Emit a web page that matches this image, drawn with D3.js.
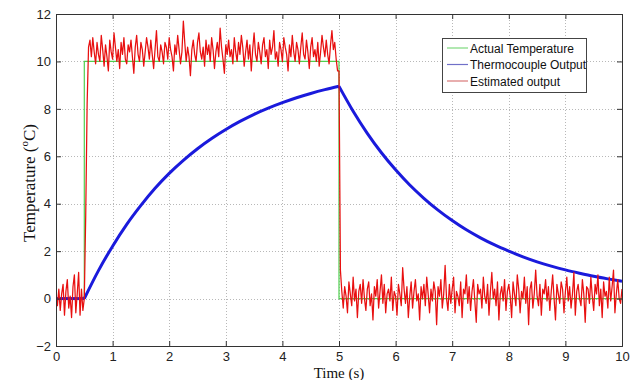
<!DOCTYPE html>
<html><head><meta charset="utf-8">
<script src="https://cdn.jsdelivr.net/npm/d3@7"></script>
<style>body{margin:0;background:#fff}svg{display:block}</style>
</head><body>
<svg id="c" width="640" height="380"></svg>
<script>
const xTicks = [0,1,2,3,4,5,6,7,8,9,10];
const yTicks = [-2,0,2,4,6,8,10,12];
const seriesNames = ["Actual Temperature","Thermocouple Output","Estimated output"];
// Actual temperature (step input)
const actualT = [0,0.5,0.5,5,5,10];
const actualV = [0,0,10,10,0,0];
// Thermocouple output, read every 0.25 s
const thermoT = [0,0.25,0.5,0.75,1,1.25,1.5,1.75,2,2.25,2.5,2.75,3,3.25,3.5,3.75,4,4.25,4.5,4.75,5,
  5.25,5.5,5.75,6,6.25,6.5,6.75,7,7.25,7.5,7.75,8,8.25,8.5,8.75,9,9.25,9.5,9.75,10];
const thermoV = [0,0,0,1.18,2.21,3.13,3.93,4.65,5.28,5.83,6.32,6.75,7.13,7.47,7.77,8.03,8.26,8.47,8.65,8.81,8.95,
  7.90,6.97,6.15,5.43,4.79,4.23,3.73,3.29,2.90,2.56,2.26,2.00,1.76,1.55,1.37,1.21,1.07,0.94,0.83,0.73];
const thermoBreaks = [0.5,5];
// Estimated output, read every 0.025 s
const estStep = 0.025;
const estV = [
 0.1,-0.3,0.4,-0.5,0.2,0.6,-0.7,0.3,0.8,-0.4,0.1,-0.8,0.5,1.0,-0.6,0.2,1.1,-0.7,0.4,-0.5,0.0,
 3.5,8.2,
 10.6,10.9,10.2,11.0,10.4,9.9,10.8,10.3,10.0,11.1,10.5,9.8,10.7,10.2,9.6,10.9,10.4,10.1,11.2,10.6,
 10.0,10.5,9.7,10.8,10.3,11.0,10.1,9.9,10.7,10.4,10.9,10.2,9.5,10.6,11.1,10.3,10.0,10.8,10.5,9.8,
 10.4,11.0,10.6,10.1,10.9,10.3,9.7,10.5,11.3,10.2,10.0,10.7,10.4,9.9,10.8,10.6,10.1,11.0,10.5,10.2,
 9.6,10.7,10.3,11.1,10.5,9.9,10.4,11.7,10.8,10.0,10.6,10.2,9.4,10.5,10.9,10.3,10.0,10.8,11.2,10.4,
 10.1,10.6,9.8,10.9,10.3,10.7,10.0,11.0,10.5,9.7,10.4,10.8,10.2,11.4,10.6,10.1,9.5,10.7,10.3,10.9,
 10.2,10.5,9.9,11.0,10.4,10.0,10.8,10.3,11.1,10.6,9.8,10.4,10.9,10.1,10.7,9.6,10.5,11.2,10.3,10.0,
 10.8,10.4,9.9,10.7,11.0,10.2,10.5,9.7,10.9,10.3,10.6,11.3,10.1,10.4,9.8,10.8,10.5,10.0,11.0,10.6,
 10.3,9.6,10.7,10.2,11.1,10.4,10.0,10.8,10.5,9.9,10.6,11.2,10.3,10.1,10.9,10.4,9.7,10.6,11.0,10.2,
 10.5,10.0,10.8,9.8,10.4,11.1,10.6,10.2,10.9,10.3,9.9,10.7,11.3,10.5,10.8,10.1,9.6,
 9.6,
 1.2,0.3,-0.4,0.5,0.1,-0.6,0.7,0.2,-0.3,0.9,-0.1,0.4,-0.8,0.3,0.6,-0.2,0.8,0.0,-0.5,0.4,
 0.7,-0.3,0.2,-0.9,0.5,0.1,0.8,-0.4,0.3,1.0,-0.2,0.6,-0.6,0.2,0.4,-0.1,0.9,-0.5,0.3,0.1,
 -0.7,0.6,0.2,-0.3,1.3,0.4,-0.2,0.5,-0.8,0.1,0.7,-0.4,0.3,0.8,-0.1,0.2,-0.9,0.5,0.0,0.6,
 -0.3,0.9,0.2,-0.6,0.4,-0.1,0.7,0.3,-1.1,0.5,0.1,0.8,-0.4,0.2,1.4,0.0,-0.5,0.6,-0.2,0.4,
 0.9,-0.6,0.3,0.1,-0.3,0.7,-0.8,0.4,0.2,1.0,-0.2,0.5,-0.5,0.3,0.8,-0.1,-1.0,0.6,0.2,0.4,
 -0.4,0.9,0.1,-0.2,0.6,-0.7,0.3,1.1,0.0,0.4,-0.3,0.7,-0.9,0.2,0.5,-0.1,0.8,-0.5,0.3,0.6,
 0.1,-0.8,0.7,0.2,-0.3,1.0,0.4,-0.6,0.3,0.0,0.9,-0.2,0.5,-1.1,0.4,0.7,-0.4,0.2,1.2,0.1,
 -0.3,0.6,-0.7,0.4,0.2,0.8,-0.1,0.5,-0.5,0.3,1.0,0.0,-0.9,0.6,0.2,-0.2,0.7,0.4,-0.6,0.3,
 0.9,-0.1,0.5,-0.4,0.2,1.1,-0.7,0.3,0.6,0.0,-0.3,0.8,0.2,-1.0,0.5,0.4,-0.2,0.9,0.1,-0.5,
 0.6,0.2,1.0,-0.3,0.4,-0.8,0.7,0.1,0.3,-0.4,0.9,-0.1,0.5,1.2,-0.6,0.2,0.8,0.0,-0.2,0.4
];

const L=56, R=622, T=14, B=346;
const svg = d3.select("#c");
const x = d3.scaleLinear().domain([0,10]).range([L,R]);
const y = d3.scaleLinear().domain([-2,12]).range([B,T]);

svg.append("rect").attr("x",L).attr("y",T).attr("width",R-L).attr("height",B-T).attr("fill","#fff");

// grid
const grid = svg.append("g").attr("stroke","#b8b8b8").attr("stroke-width",1).attr("stroke-dasharray","1,2");
grid.selectAll(".gx").data(xTicks.slice(1,-1)).join("line")
  .attr("x1",d=>Math.round(x(d))+0.5).attr("x2",d=>Math.round(x(d))+0.5).attr("y1",T).attr("y2",B);
grid.selectAll(".gy").data(yTicks.slice(1,-1)).join("line")
  .attr("y1",d=>Math.round(y(d))+0.5).attr("y2",d=>Math.round(y(d))+0.5).attr("x1",L).attr("x2",R);

svg.append("clipPath").attr("id","pc").append("rect")
  .attr("x",L).attr("y",T).attr("width",R-L).attr("height",B-T);
const plot = svg.append("g").attr("clip-path","url(#pc)");

const line = d3.line().x(d=>x(d[0])).y(d=>y(d[1]));
const smooth = d3.line().x(d=>x(d[0])).y(d=>y(d[1])).curve(d3.curveMonotoneX);
const green = "#4fd04f", blue = "#1a1adc", red = "#e81010";

plot.append("path").datum(actualT.map((t,i)=>[t,actualV[i]]))
  .attr("d",line).attr("fill","none").attr("stroke",green).attr("stroke-width",1.2);

// thermocouple: smooth within each segment, sharp corners at the step times
const thermoPts = thermoT.map((t,i)=>[t,thermoV[i]]);
const b0 = thermoT.indexOf(thermoBreaks[0]), b1 = thermoT.indexOf(thermoBreaks[1]);
[thermoPts.slice(0,b0+1), thermoPts.slice(b0,b1+1), thermoPts.slice(b1)].forEach((seg,k)=>{
  plot.append("path").datum(seg).attr("d",k===0?line:smooth)
    .attr("fill","none").attr("stroke",blue).attr("stroke-width",3).attr("stroke-linejoin","round");
});

plot.append("path").datum(estV.map((v,i)=>[i*estStep,v]))
  .attr("d",line).attr("fill","none").attr("stroke",red).attr("stroke-width",1.25).attr("stroke-linejoin","round");

// axes (MATLAB-style box with inward ticks)
const ax = svg.append("g");
ax.append("g").attr("transform",`translate(0,${B})`)
  .call(d3.axisBottom(x).tickValues(xTicks).tickSize(-5).tickPadding(6).tickFormat(d3.format("d")));
ax.append("g").attr("transform",`translate(0,${T})`)
  .call(d3.axisTop(x).tickValues(xTicks).tickSize(-5).tickFormat(""));
ax.append("g").attr("transform",`translate(${L},0)`)
  .call(d3.axisLeft(y).tickValues(yTicks).tickSize(-5).tickPadding(5).tickFormat(d3.format("d")));
ax.append("g").attr("transform",`translate(${R},0)`)
  .call(d3.axisRight(y).tickValues(yTicks).tickSize(-5).tickFormat(""));
ax.selectAll(".domain").attr("stroke","#333");
ax.selectAll(".tick line").attr("stroke","#333");
ax.selectAll(".tick text").attr("font-family","'Liberation Sans', Arial, sans-serif").attr("font-size",13).attr("fill","#222");

// axis labels
svg.append("text").attr("x",(L+R)/2).attr("y",378).attr("text-anchor","middle")
  .attr("font-family","'Liberation Serif','Times New Roman',serif").attr("font-size",15).attr("fill","#111")
  .text("Time (s)");
const yl = svg.append("text").attr("transform",`translate(35,183) rotate(-90)`).attr("text-anchor","middle")
  .attr("font-family","'Liberation Serif','Times New Roman',serif").attr("font-size",17).attr("fill","#111");
yl.append("tspan").text("Temperature (");
yl.append("tspan").attr("font-size",11).attr("dy",-7).text("o");
yl.append("tspan").attr("dy",7).text("C)");

// legend
const lg = svg.append("g");
lg.append("rect").attr("x",442.5).attr("y",38.5).attr("width",144).attr("height",54).attr("fill","#fff").attr("stroke","#444");
const legCols = ["#7cd87c","#7070c8","#d87878"];
seriesNames.forEach((n,i)=>{
  const yy = 48 + i*16.5;
  lg.append("line").attr("x1",447).attr("x2",468).attr("y1",yy).attr("y2",yy).attr("stroke",legCols[i]).attr("stroke-width",1.2);
  lg.append("text").attr("x",470).attr("y",yy+4.5).attr("font-family","'Liberation Sans', Arial, sans-serif")
    .attr("font-size",12).attr("fill","#111").text(n);
});
</script>
</body></html>
